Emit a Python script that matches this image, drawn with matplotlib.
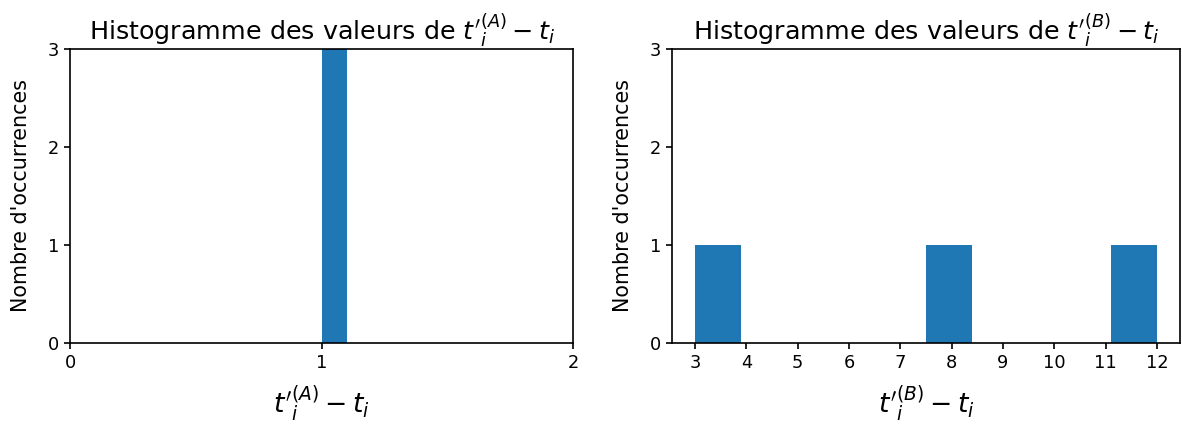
import matplotlib
matplotlib.use("Agg")
import matplotlib.pyplot as plt

values_a = [1, 1, 1]
values_b = [3, 8, 12]
xticks_a = [0, 1, 2]
xticks_b = list(range(3, 13))
yticks = [0, 1, 2, 3]

W, H = 1182, 428
fig = plt.figure(figsize=(W / 100, H / 100), dpi=100)
ax1 = fig.add_axes([70 / W, 1 - 342.5 / H, 503 / W, 293.5 / H])
ax2 = fig.add_axes([672 / W, 1 - 342.5 / H, 508 / W, 293.5 / H])

ax1.hist(values_a, bins=10, color="#1f77b4")
ax1.set_xlim(0, 2)
ax1.set_xticks(xticks_a)
ax1.set_ylim(0, 3)
ax1.set_yticks(yticks)
ax1.set_title(r"Histogramme des valeurs de $t'^{(A)}_i - t_i$", fontsize=18.3)
ax1.set_xlabel(r"$t'^{(A)}_i - t_i$", fontsize=19.2, labelpad=9)
ax1.set_ylabel("Nombre d'occurrences", fontsize=14.9, labelpad=12)

ax2.hist(values_b, bins=10, color="#1f77b4")
ax2.set_xticks(xticks_b)
ax2.set_ylim(0, 3)
ax2.set_yticks(yticks)
ax2.set_title(r"Histogramme des valeurs de $t'^{(B)}_i - t_i$", fontsize=18.3)
ax2.set_xlabel(r"$t'^{(B)}_i - t_i$", fontsize=19.2, labelpad=9)
ax2.set_ylabel("Nombre d'occurrences", fontsize=14.9, labelpad=12)

for ax in (ax1, ax2):
    ax.tick_params(labelsize=12.8, length=4.5, width=1.2)
    for s in ax.spines.values():
        s.set_linewidth(1.2)

fig.savefig("out.png", dpi=100)
